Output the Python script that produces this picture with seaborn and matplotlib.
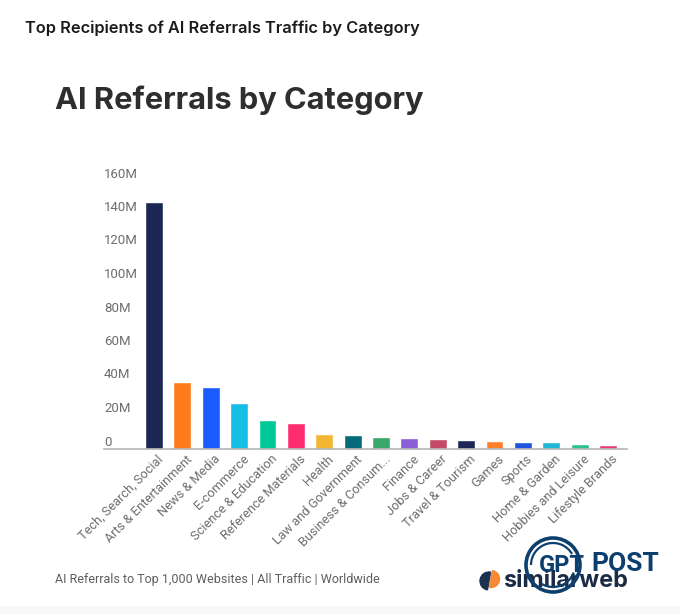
""" AI Referrals by Category """

import matplotlib
matplotlib.use('Agg')
import matplotlib.pyplot as plt
from matplotlib.patches import Circle, Wedge, Arc, Rectangle
from matplotlib.transforms import offset_copy
import pandas as pd
import seaborn as sns

categorias = [
    'Tech, Search, Social', 'Arts & Entertainment', 'News & Media', 'E-commerce',
    'Science & Education', 'Reference Materials', 'Health', 'Law and Government',
    'Business & Consum...', 'Finance', 'Jobs & Career', 'Travel & Tourism',
    'Games', 'Sports', 'Home & Garden', 'Hobbies and Leisure', 'Lifestyle Brands',
]
referrals_milhoes = [147, 39.5, 36.7, 27.2, 17, 15.3, 8.5, 7.9, 7, 6.4, 5.5, 4.9, 4.3, 3.7, 3.7, 2.7, 2.1]
cores = [
    '#1c2755', '#ff7a1a', '#1a5cff', '#14bfe6', '#00c896', '#ff2d6f', '#f2b632', '#056b78',
    '#3aa76d', '#8a5fd6', '#c44a68', '#1c2755', '#ff7f2a', '#1f55e0', '#1fb8d8', '#2cc08f', '#e83a78',
]
y_ticks = [0, 20, 40, 60, 80, 100, 120, 140, 160]
y_labels = ['0', '20M', '40M', '60M', '80M', '100M', '120M', '140M', '160M']

W, H = 680, 614

sns.set_style('white')
plt.rcParams['font.family'] = ['Roboto', 'DejaVu Sans']

df = pd.DataFrame({'categoria': categorias, 'valor': referrals_milhoes})

fig = plt.figure(figsize=(W / 100, H / 100), dpi=100)
ax = fig.add_axes([104 / W, (H - 448.5) / H, 523 / W, 268 / H])

sns.barplot(
    data=df, x='categoria', y='valor', hue='categoria',
    palette=cores, width=0.63, legend=False, ax=ax, saturation=1
)

ax.set_xlim(-1.76, 16.67)
ax.set_ylim(0, 160)
ax.set_xlabel('')
ax.set_ylabel('')
sns.despine(ax=ax, left=True)
ax.spines['bottom'].set_color('#b5b5b5')
ax.spines['bottom'].set_linewidth(1.2)

ax.set_yticks(y_ticks)
ax.set_yticklabels(y_labels, fontsize=9.5, color='#6e6e6e', va='bottom', ha='left')
for t in ax.get_yticklabels():
    t.set_transform(offset_copy(ax.get_yaxis_transform(), fig=fig, x=0, y=3 * 72 / 100, units='points'))
    t.set_x(0)
ax.tick_params(axis='y', length=0, pad=0)

ax.set_xticks(range(len(categorias)))
ax.set_xticklabels(categorias, rotation=45, ha='right', rotation_mode='anchor', fontsize=9.2, color='#6e6e6e')
ax.tick_params(axis='x', length=0, pad=3)
for t in ax.get_xticklabels():
    t.set_transform(t.get_transform() + matplotlib.transforms.ScaledTranslation(3 / 100, 0, fig.dpi_scale_trans))

# camada em pixels para textos e logos
over = fig.add_axes([0, 0, 1, 1], zorder=5)
over.set_xlim(0, W)
over.set_ylim(H, 0)
over.axis('off')
over.patch.set_alpha(0)

over.add_patch(Rectangle((0, 606), W, 8, color='#f8f8f8', linewidth=0))

over.text(25, 28, 'Top Recipients of AI Referrals Traffic by Category', family='Inter', weight='semibold',
          fontsize=11.8, color='#1a1a1a', va='center')
over.text(55, 100, 'AI Referrals by Category', family='Inter', weight='bold',
          fontsize=22.2, color='#2e2e2e', va='center')
over.text(55, 579, 'AI Referrals to Top 1,000 Websites | All Traffic | Worldwide', fontsize=9,
          color='#5e5e5e', va='center')

# logo similarweb
over.add_patch(Wedge((491, 579), 8.5, 280, 100, color='#f58a33'))
over.add_patch(Wedge((489, 581), 9, 100, 280, color='#1c3150'))
over.text(503, 581, 'similarweb', family='Inter', weight='bold', fontsize=16.8, color='#1c2b45', va='center', zorder=3)

# marca d'agua GPT POST, por cima do logo
azul = '#0d3f6e'
over.add_patch(Circle((553, 565), 27, fill=False, edgecolor=azul, linewidth=2.6, zorder=4))
over.add_patch(Arc((553, 565), 44, 44, theta1=180, theta2=330, edgecolor=azul, linewidth=1.6, zorder=4))
over.add_patch(Arc((553, 565), 44, 44, theta1=20, theta2=120, edgecolor=azul, linewidth=1.6, zorder=4))
over.text(561.5, 565, 'GPT', weight='bold', fontsize=17, color=azul, va='center', ha='center', zorder=5)
over.text(625.5, 564, 'POST', weight='bold', fontsize=19, color=azul, va='center', ha='center', zorder=5)

fig.savefig('out.png', dpi=100)
